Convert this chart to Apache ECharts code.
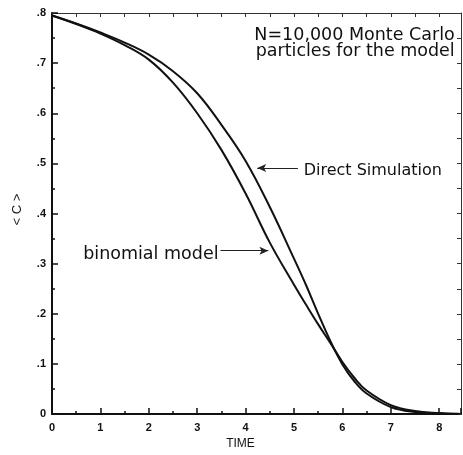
<!DOCTYPE html>
<html><head><meta charset="utf-8">
<script src="https://cdn.jsdelivr.net/npm/echarts@6/dist/echarts.min.js"></script>
<style>html,body{margin:0;padding:0;background:#fff}#c{width:463px;height:455px}</style>
</head><body><div id="c"></div>
<script>
// ---- data ----
const timeT = [0, 0.5, 1, 1.5, 2, 2.5, 3, 3.5, 4, 4.5, 5, 5.25, 5.5, 5.75, 6, 6.25, 6.5, 7, 7.5, 8, 8.4];
const directC = [0.795, 0.779, 0.761, 0.741, 0.717, 0.684, 0.640, 0.577, 0.505, 0.413, 0.310, 0.257, 0.200, 0.146, 0.099, 0.065, 0.041, 0.014, 0.004, 0.001, 0.0];
const binomC  = [0.795, 0.778, 0.759, 0.736, 0.707, 0.661, 0.600, 0.527, 0.440, 0.342, 0.258, 0.218, 0.179, 0.142, 0.104, 0.072, 0.047, 0.018, 0.006, 0.002, 0.0005];
const xTickLabels = ['0','1','2','3','4','5','6','7','8'];
const yTickLabels = ['0','.1','.2','.3','.4','.5','.6','.7','.8'];
const seriesNames = ['Direct Simulation', 'binomial model'];
const noteLines = ['N=10,000 Monte Carlo', 'particles for the model'];

const chart = echarts.init(document.getElementById('c'), null, {renderer: 'canvas'});
const labelFont = {color: '#111', fontFamily: 'Liberation Sans', fontWeight: 'bold', fontSize: 11};
const pair = (T, C) => T.map((t, i) => [t, C[i]]);

chart.setOption({
  animation: false,
  backgroundColor: '#fff',
  grid: {left: 52, right: 2, top: 13, bottom: 36.5, containLabel: false},
  xAxis: [{
    type: 'value', min: 0, max: 8.45, interval: 1, position: 'bottom',
    name: 'TIME', nameLocation: 'middle', nameGap: 23,
    nameTextStyle: {color: '#111', fontFamily: 'Liberation Sans', fontSize: 12, padding: [0, 32, 0, 0]},
    axisLine: {show: true, onZero: false, lineStyle: {color: '#111', width: 2}},
    axisTick: {show: true, inside: true, length: 6, lineStyle: {color: '#111', width: 1.5}},
    minorTick: {show: true, splitNumber: 2, length: 3, lineStyle: {color: '#111', width: 1.5}},
    splitLine: {show: false},
    axisLabel: Object.assign({margin: 8, showMaxLabel: false,
      formatter: v => (Number.isInteger(v) && v < xTickLabels.length) ? xTickLabels[v] : ''}, labelFont)
  }, {
    type: 'value', min: 0, max: 8.45, interval: 0.5, position: 'top',
    axisLine: {show: true, onZero: false, lineStyle: {color: '#333', width: 1}},
    axisTick: {show: true, inside: true, length: 4, lineStyle: {color: '#333', width: 1}},
    splitLine: {show: false}, axisLabel: {show: false}
  }],
  yAxis: [{
    type: 'value', min: 0, max: 0.8, interval: 0.1, position: 'left',
    name: '< C >', nameLocation: 'middle', nameGap: 28, nameRotate: 90,
    nameTextStyle: {color: '#111', fontFamily: 'Liberation Sans', fontSize: 13, padding: [0, 0, 0, 8]},
    axisLine: {show: true, onZero: false, lineStyle: {color: '#111', width: 2}},
    axisTick: {show: true, inside: true, length: 6, lineStyle: {color: '#111', width: 1.5}},
    minorTick: {show: true, splitNumber: 2, length: 3, lineStyle: {color: '#111', width: 1.5}},
    splitLine: {show: false},
    axisLabel: Object.assign({margin: 6,
      formatter: v => yTickLabels[Math.round(v * 10)] || ''}, labelFont)
  }, {
    type: 'value', min: 0, max: 0.8, interval: 0.05, position: 'right',
    axisLine: {show: true, onZero: false, lineStyle: {color: '#333', width: 1}},
    axisTick: {show: true, inside: true, length: 4, lineStyle: {color: '#333', width: 1}},
    splitLine: {show: false}, axisLabel: {show: false}
  }],
  series: [{
    name: seriesNames[0], type: 'line', smooth: 0.4, symbol: 'none',
    lineStyle: {color: '#111', width: 2}, data: pair(timeT, directC),
    markLine: {silent: true, symbol: ['none', 'arrow'], symbolSize: [6, 9], label: {show: false},
      lineStyle: {color: '#222', width: 1, type: 'solid'},
      data: [[{coord: [5.08, 0.491]}, {coord: [4.24, 0.491]}]]}
  }, {
    name: seriesNames[1], type: 'line', smooth: 0.4, symbol: 'none',
    lineStyle: {color: '#111', width: 2}, data: pair(timeT, binomC),
    markLine: {silent: true, symbol: ['none', 'arrow'], symbolSize: [6, 9], label: {show: false},
      lineStyle: {color: '#222', width: 1, type: 'solid'},
      data: [[{coord: [3.48, 0.326]}, {coord: [4.47, 0.326]}]]}
  }]
});

const px = (x, y) => chart.convertToPixel({xAxisIndex: 0, yAxisIndex: 0}, [x, y]);
const pD = px(5.2, 0.486), pB = px(3.44, 0.318), pN = px(8.32, 0.772);
chart.setOption({graphic: [
  {type: 'text', style: {text: seriesNames[0], x: pD[0], y: pD[1], font: '16px "DejaVu Sans"', fill: '#111', align: 'left', verticalAlign: 'middle'}},
  {type: 'text', style: {text: seriesNames[1], x: pB[0], y: pB[1], font: '17.5px "DejaVu Sans"', fill: '#111', align: 'right', verticalAlign: 'middle'}},
  {type: 'text', style: {text: noteLines.join('\n'), x: pN[0], y: pN[1], font: '17.5px "DejaVu Sans"', lineHeight: 16, fill: '#111', align: 'right', verticalAlign: 'top'}}
]});
</script>
</body></html>
